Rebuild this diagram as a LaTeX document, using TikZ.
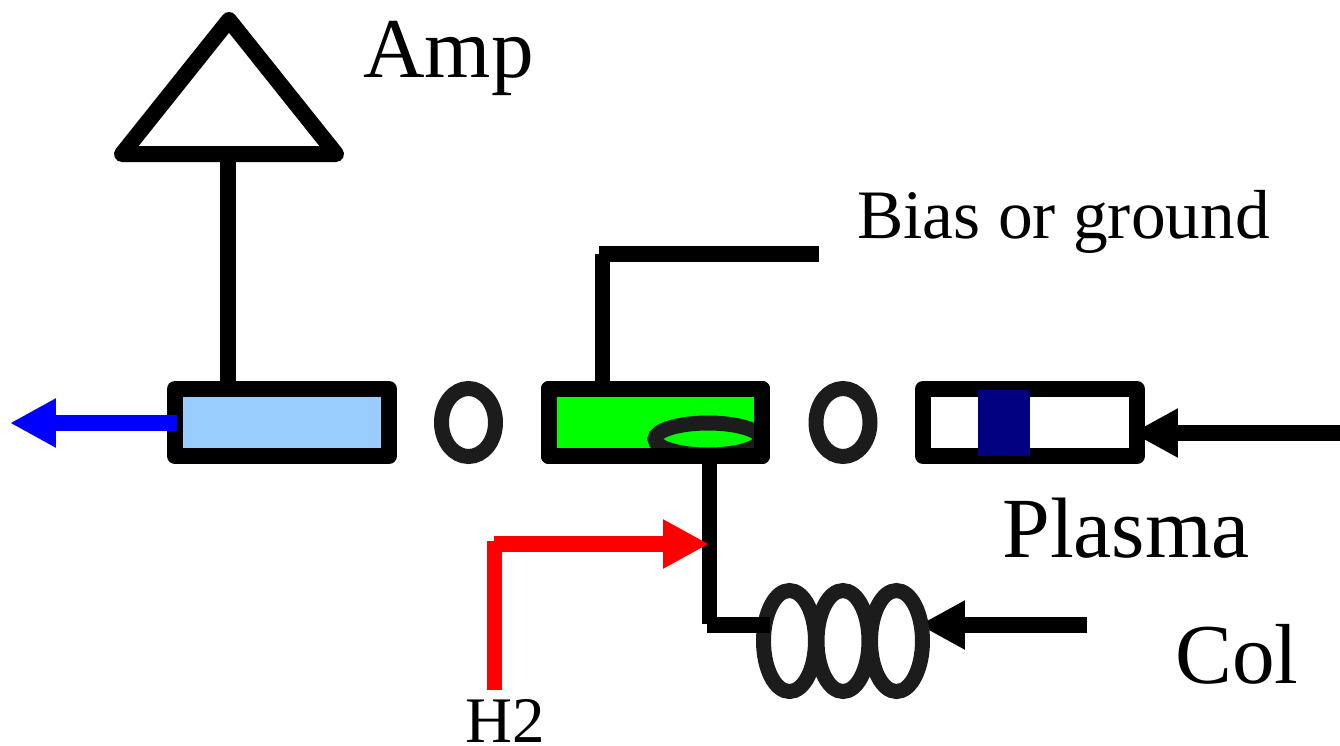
\documentclass[tikz,border=0pt]{standalone}
\usepackage{fontspec}
\setmainfont{Liberation Serif}
\usetikzlibrary{arrows.meta,shapes.geometric}
\definecolor{lightblu}{HTML}{99CCFF}
\definecolor{navyblu}{HTML}{000080}
\definecolor{ringgray}{HTML}{1C1C1C}
\tikzset{
  wire/.style={line width=0.31cm},
  electrode/.style={draw,line width=0.32cm,line join=round,minimum width=4.28cm,minimum height=1.34cm,inner sep=0pt},
  ring/.style={ellipse,draw=ringgray,line width=0.3cm,inner sep=0pt},
  gapring/.style={ring,minimum width=1.08cm,minimum height=1.36cm},
  coilring/.style={ring,minimum width=1.04cm,minimum height=2.02cm},
  flow/.style={wire,-{Triangle[length=0.92cm,width=0.92cm]}},
  lab/.style={anchor=base west,inner sep=0pt}
}
\begin{document}
\begin{tikzpicture}[x=0.02cm,y=-0.02cm]
\useasboundingbox (0,0) rectangle (1340,745);
\coordinate (ampa) at (229,20);
\coordinate (ampb) at (122,154);
\coordinate (ampc) at (336,154);
\coordinate (ampin) at (228,154);
\coordinate (ampfoot) at (228,381);
\coordinate (biasfoot) at (602.5,381);
\coordinate (biasup) at (602.5,254);
\coordinate (biascnr) at (599,254);
\coordinate (biasend) at (819,254);
\coordinate (outfrom) at (177,423);
\coordinate (outto) at (10,423);
\coordinate (plasmafrom) at (1340,433);
\coordinate (plasmato) at (1132,433);
\coordinate (colfrom) at (1087,625);
\coordinate (colto) at (919,625);
\coordinate (wiretop) at (709.5,464);
\coordinate (wirebot) at (709.5,624);
\coordinate (wirecnr) at (707,625);
\coordinate (wireend) at (770,625);
\coordinate (gasfrom) at (494.5,690);
\coordinate (gasup) at (494.5,541);
\coordinate (gascnr) at (494,544);
\coordinate (gasto) at (709,544);
\draw[flow] (plasmafrom) -- (plasmato);
\draw[flow] (colfrom) -- (colto);
\node[electrode,fill=lightblu] (box1) at (282,422.5) {};
\node[electrode,fill=green] (box2) at (655.5,422.5) {};
\node[electrode,fill=white] (box3) at (1030,422.5) {};
\node[fill=navyblu,minimum width=1.04cm,minimum height=1.32cm,inner sep=0pt] (plug) at (1004,423) {};
\node[gapring] (ring1) at (468.5,422.5) {};
\node[gapring] (ring2) at (843,422.5) {};
\node[ring,fill=green,minimum width=2.12cm,minimum height=0.64cm] (port) at (708,439) {};
\node[electrode] (box2rim) at (655.5,422.5) {};
\node[coilring] (coil1) at (789.5,641) {};
\node[coilring] (coil2) at (843,641) {};
\node[coilring] (coil3) at (896.5,641) {};
\node[lab,font=\fontsize{48.5}{52}\selectfont] (amp) at (363,77) {Amp};
\node[lab,font=\fontsize{39.5}{42}\selectfont] (biaslab) at (857,238) {Bias or ground};
\node[lab,font=\fontsize{48.8}{52}\selectfont] (plasma) at (1002,557) {Plasma};
\node[lab,font=\fontsize{48.5}{52}\selectfont] (col) at (1175,683) {Col};
\node[lab,font=\fontsize{37}{40}\selectfont] (h2) at (465,742) {H2};
\draw[wire,line width=0.32cm,line join=round] (ampa) -- (ampb) -- (ampc) -- cycle;
\draw[wire] (ampin) -- (ampfoot);
\draw[wire] (biasfoot) -- (biasup);
\draw[wire] (biascnr) -- (biasend);
\draw[wire] (wiretop) -- (wirebot);
\draw[wire] (wirecnr) -- (wireend);
\draw[flow,draw=blue,-{Triangle[length=0.92cm,width=0.92cm,color=blue]}] (outfrom) -- (outto);
\draw[wire,red] (gasfrom) -- (gasup);
\draw[flow,draw=red,-{Triangle[length=0.92cm,width=0.92cm,color=red]}] (gascnr) -- (gasto);
\end{tikzpicture}
\end{document}
